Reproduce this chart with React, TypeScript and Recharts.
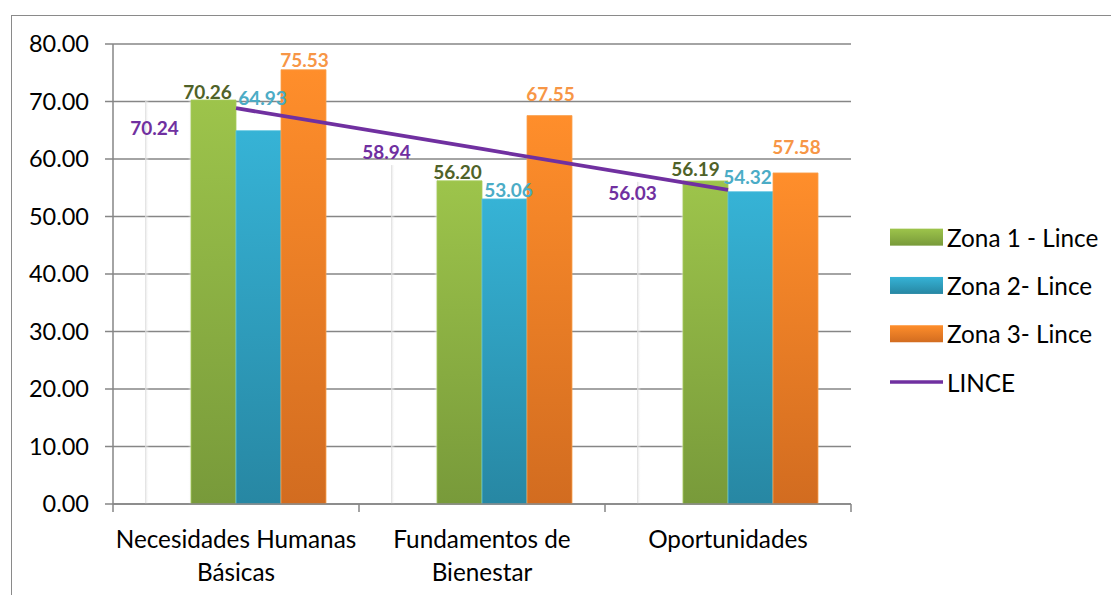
import React from "react";
import {
  ComposedChart,
  Bar,
  Line,
  XAxis,
  YAxis,
  CartesianGrid,
  Legend,
  LabelList,
} from "recharts";

// ---- data ----
const CATEGORIES = ["Necesidades Humanas Básicas", "Fundamentos de Bienestar", "Oportunidades"];
const CATEGORY_LINES = [["Necesidades Humanas", "Básicas"], ["Fundamentos de", "Bienestar"], ["Oportunidades"]];
const LINCE = [70.24, 58.94, 56.03];
const ZONA1 = [70.26, 56.2, 56.19];
const ZONA2 = [64.93, 53.06, 54.32];
const ZONA3 = [75.53, 67.55, 57.58];
const LINCE_TREND = [68.84, 61.74, 54.63];
const Y_TICKS = [0, 10, 20, 30, 40, 50, 60, 70, 80];
const SERIES_NAMES = ["Zona 1 - Lince", "Zona 2- Lince", "Zona 3- Lince", "LINCE"];

const data = CATEGORIES.map((c, i) => ({
  category: c,
  lince: LINCE[i],
  z1: ZONA1[i],
  z2: ZONA2[i],
  z3: ZONA3[i],
  trend: LINCE_TREND[i],
}));

// ---- style ----
const FONT = "Lato, 'Open Sans', sans-serif";
const AXIS_COLOR = "#868686";
const PURPLE = "#7030A0";
const LABEL_SIZE = 19;
const TEXT_SIZE = 24.3;
const YTICK_SIZE = 23.5;

// label offsets (dx, dy) relative to bar top-center, style only
const OFF_LINCE: [number, number][] = [[-14, 27], [-28, -14], [-28, 11]];
const OFF_Z1: [number, number][] = [[-6, -9], [-2, -9], [-10, -12]];
const OFF_Z2: [number, number][] = [[4, -33], [4, -9], [-3, -15]];
const OFF_Z3: [number, number][] = [[1, -10], [1, -22], [1, -26]];

const makeLabel = (color: string, offsets: [number, number][]) => (props: any) => {
  const { x, y, width, value, index } = props;
  const off = offsets[index] || [0, -10];
  return (
    <text
      x={Number(x) + Number(width) / 2 + off[0]}
      y={Number(y) + off[1]}
      fill={color}
      textAnchor="middle"
      dominantBaseline="central"
      fontWeight={700}
      fontSize={LABEL_SIZE}
      fontFamily={FONT}
    >
      {Number(value).toFixed(2)}
    </text>
  );
};

const WhiteBar = (props: any) => {
  const { x, y, width, height } = props;
  if (!height || height <= 0) return null;
  return (
    <g>
      <rect x={x} y={y} width={width} height={height} fill="#ffffff" fillOpacity={0} />
      <rect x={x - 1} y={y} width={4} height={height} fill="url(#shadowL)" />
      <rect x={x + width - 3} y={y} width={4} height={height} fill="url(#shadowR)" />
    </g>
  );
};

const CategoryTick = (props: any) => {
  const { x, y, payload } = props;
  const idx = payload.index ?? CATEGORIES.indexOf(payload.value);
  const lines = CATEGORY_LINES[idx] || [String(payload.value)];
  const half = payload.offset ?? 0;
  const axisY = y - 10;
  return (
    <g>
      <line x1={x - half} x2={x - half} y1={axisY} y2={axisY + 8} stroke={AXIS_COLOR} strokeWidth={1.5} />
      {idx === CATEGORIES.length - 1 && (
        <line x1={x + half} x2={x + half} y1={axisY} y2={axisY + 8} stroke={AXIS_COLOR} strokeWidth={1.5} />
      )}
      <text x={x} y={y} textAnchor="middle" fill="#000" fontSize={TEXT_SIZE} fontFamily={FONT}>
        {lines.map((l, i) => (
          <tspan key={i} x={x} dy={i === 0 ? 34 : 33}>
            {l}
          </tspan>
        ))}
      </text>
    </g>
  );
};

const renderLegend = (props: any) => {
  const raw = (props.payload || []).filter((p: any) => p.type !== "none");
  const payload = [...raw.filter((p: any) => p.type !== "line"), ...raw.filter((p: any) => p.type === "line")];
  const rowH = 48.3;
  return (
    <svg width={226} height={rowH * payload.length} style={{ display: "block" }}>
      {payload.map((p: any, i: number) => {
        const cy = rowH * i + rowH / 2;
        return (
          <g key={i}>
            {p.type === "line" ? (
              <line x1={0} x2={53} y1={cy} y2={cy} stroke={p.color} strokeWidth={3.5} />
            ) : (
              <rect x={0} y={cy - 8.5} width={53} height={17} fill={p.color} />
            )}
            <text x={57} y={cy} dominantBaseline="central" fontSize={TEXT_SIZE} fontFamily={FONT} fill="#000">
              {p.value}
            </text>
          </g>
        );
      })}
    </svg>
  );
};

export default function App() {
  return (
    <div
      style={{
        position: "absolute",
        left: 0,
        top: 0,
        width: 1111,
        height: 595,
        overflow: "hidden",
        background: "#fff",
        fontFamily: FONT,
      }}
    >
      <div
        style={{
          position: "absolute",
          left: 11,
          top: 15,
          width: 1300,
          height: 800,
          border: "1.5px solid #8a8a8a",
        }}
      />
      <div style={{ position: "absolute", left: 0, top: 0 }}>
        <ComposedChart
          width={1111}
          height={595}
          data={data}
          margin={{ top: 44, right: 260, bottom: 0, left: 0 }}
          barCategoryGap={33}
          barGap={0}
          style={{ fontFamily: FONT }}
        >
          <defs>
            <linearGradient id="gGreen" x1="0" y1="0" x2="0" y2="1">
              <stop offset="0%" stopColor="#9DC44B" />
              <stop offset="100%" stopColor="#789A3A" />
            </linearGradient>
            <linearGradient id="gBlue" x1="0" y1="0" x2="0" y2="1">
              <stop offset="0%" stopColor="#36B3D6" />
              <stop offset="100%" stopColor="#2787A3" />
            </linearGradient>
            <linearGradient id="gOrange" x1="0" y1="0" x2="0" y2="1">
              <stop offset="0%" stopColor="#FF8E2B" />
              <stop offset="100%" stopColor="#D26C20" />
            </linearGradient>
            <linearGradient id="shadowL" x1="0" y1="0" x2="1" y2="0">
              <stop offset="0%" stopColor="#d8d8d8" stopOpacity={0.9} />
              <stop offset="100%" stopColor="#ffffff" stopOpacity={0} />
            </linearGradient>
            <linearGradient id="shadowR" x1="0" y1="0" x2="1" y2="0">
              <stop offset="0%" stopColor="#ffffff" stopOpacity={0} />
              <stop offset="100%" stopColor="#e2e2e2" stopOpacity={0.8} />
            </linearGradient>
          </defs>
          <CartesianGrid vertical={false} stroke={AXIS_COLOR} strokeWidth={1.5} />
          <XAxis
            dataKey="category"
            height={91}
            axisLine={{ stroke: AXIS_COLOR, strokeWidth: 1.5 }}
            tickLine={false}
            tickSize={8}
            tickMargin={2}
            interval={0}
            tick={<CategoryTick />}
          />
          <YAxis
            width={113}
            domain={[0, 80]}
            ticks={Y_TICKS}
            interval={0}
            tickFormatter={(v: number) => v.toFixed(2)}
            axisLine={{ stroke: AXIS_COLOR, strokeWidth: 1.5 }}
            tickLine={{ stroke: AXIS_COLOR, strokeWidth: 1.5 }}
            tickSize={8}
            tickMargin={16}
            tick={{ fill: "#000", fontSize: YTICK_SIZE, fontFamily: FONT }}
          />
          <Bar dataKey="lince" name="LINCE bar" legendType="none" fill="#ffffff" shape={<WhiteBar />} isAnimationActive={false}>
            <LabelList dataKey="lince" content={makeLabel(PURPLE, OFF_LINCE)} />
          </Bar>
          <Bar dataKey="z1" name={SERIES_NAMES[0]} fill="url(#gGreen)" stroke="#a6cc5a" strokeWidth={0.8} isAnimationActive={false}>
            <LabelList dataKey="z1" content={makeLabel("#4F6228", OFF_Z1)} />
          </Bar>
          <Bar dataKey="z2" name={SERIES_NAMES[1]} fill="url(#gBlue)" stroke="#5cc4e0" strokeWidth={0.8} isAnimationActive={false}>
            <LabelList dataKey="z2" content={makeLabel("#4BACC6", OFF_Z2)} />
          </Bar>
          <Bar dataKey="z3" name={SERIES_NAMES[2]} fill="url(#gOrange)" stroke="#f9a14f" strokeWidth={0.8} isAnimationActive={false}>
            <LabelList dataKey="z3" content={makeLabel("#F79646", OFF_Z3)} />
          </Bar>
          <Line
            dataKey="trend"
            name={SERIES_NAMES[3]}
            type="linear"
            stroke={PURPLE}
            strokeWidth={3.8}
            dot={false}
            activeDot={false}
            legendType="line"
            isAnimationActive={false}
          />
          <Legend
            layout="horizontal"
            align="center"
            verticalAlign="middle"
            width={226}
            content={renderLegend}
            wrapperStyle={{ left: 890, top: 213, width: 226 }}
          />
        </ComposedChart>
      </div>
    </div>
  );
}
